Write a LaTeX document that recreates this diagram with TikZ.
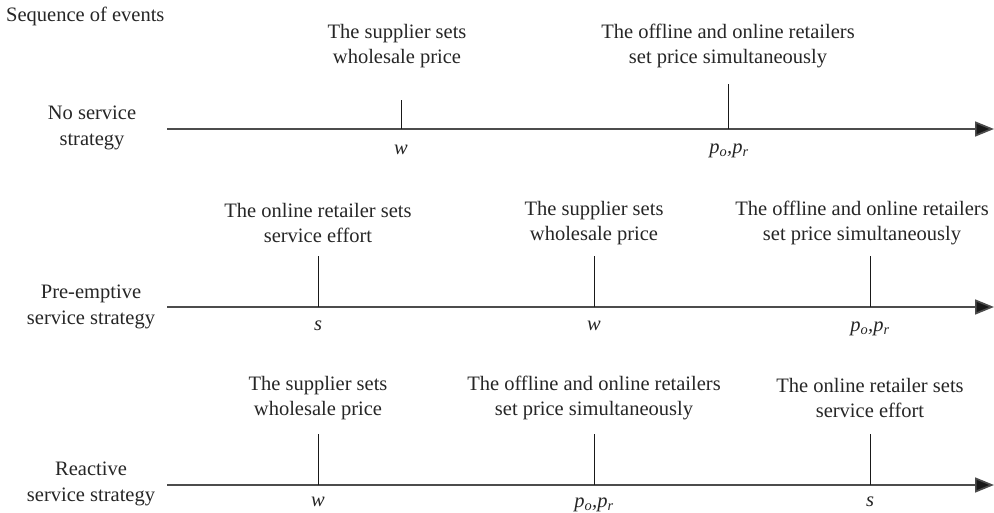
\documentclass[tikz,border=0pt]{standalone}
\usepackage{fontspec}
\setmainfont{Liberation Serif}
\usetikzlibrary{arrows.meta}
\tikzset{
  axisline/.style={draw=black!70, line width=1.7pt, -{Triangle[length=19pt,width=15pt,fill=black!90]}},
  tickline/.style={draw=black!90, line width=1pt},
  evlabel/.style={align=center, inner sep=0pt, font=\fontsize{20.5}{24.5}\selectfont, text=black!85},
  rowlabel/.style={align=center, inner sep=0pt, font=\fontsize{20.5}{26}\selectfont, text=black!85},
  varlabel/.style={inner sep=0pt, font=\fontsize{20.5}{22}\selectfont\itshape, text=black!85}
}
\newcommand{\pvars}{p\textsubscript{o},p\textsubscript{r}}
\begin{document}
\begin{tikzpicture}[x=1pt,y=-1pt]
\useasboundingbox (0,0) rectangle (994,513);

\node[evlabel, anchor=west] (title) at (6,16) {Sequence of events};

% Row 1
\coordinate (a1s) at (167,129);
\coordinate (a1e) at (994,129);
\draw[axisline] (a1s) -- (a1e);
\node[rowlabel] (r1) at (92,128) {No service\\strategy};
\coordinate (t11b) at (401,129); \coordinate (t11t) at (401,100);
\coordinate (t12b) at (728,129); \coordinate (t12t) at (728,84);
\draw[tickline] (t11b) -- (t11t);
\draw[tickline] (t12b) -- (t12t);
\node[evlabel] (e11) at (397,46) {The supplier sets\\wholesale price};
\node[evlabel] (e12) at (728,46) {The offline and online retailers\\set price simultaneously};
\node[varlabel] (v11) at (401,150) {w};
\node[varlabel] (v12) at (729,151) {\pvars};

% Row 2
\coordinate (a2s) at (167,307);
\coordinate (a2e) at (994,307);
\draw[axisline] (a2s) -- (a2e);
\node[rowlabel] (r2) at (91,307) {Pre-emptive\\service strategy};
\coordinate (t21b) at (318,307); \coordinate (t21t) at (318,256);
\coordinate (t22b) at (594,307); \coordinate (t22t) at (594,256);
\coordinate (t23b) at (870,307); \coordinate (t23t) at (870,256);
\draw[tickline] (t21b) -- (t21t);
\draw[tickline] (t22b) -- (t22t);
\draw[tickline] (t23b) -- (t23t);
\node[evlabel] (e21) at (318,223) {The online retailer sets\\service effort};
\node[evlabel] (e22) at (594,223) {The supplier sets\\wholesale price};
\node[evlabel] (e23) at (862,223) {The offline and online retailers\\set price simultaneously};
\node[varlabel] (v21) at (318,326) {s};
\node[varlabel] (v22) at (594,326) {w};
\node[varlabel] (v23) at (870,329) {\pvars};

% Row 3
\coordinate (a3s) at (167,485);
\coordinate (a3e) at (994,485);
\draw[axisline] (a3s) -- (a3e);
\node[rowlabel] (r3) at (91,484) {Reactive\\service strategy};
\coordinate (t31b) at (318,485); \coordinate (t31t) at (318,434);
\coordinate (t32b) at (594,485); \coordinate (t32t) at (594,434);
\coordinate (t33b) at (870,485); \coordinate (t33t) at (870,434);
\draw[tickline] (t31b) -- (t31t);
\draw[tickline] (t32b) -- (t32t);
\draw[tickline] (t33b) -- (t33t);
\node[evlabel] (e31) at (318,398) {The supplier sets\\wholesale price};
\node[evlabel] (e32) at (594,398) {The offline and online retailers\\set price simultaneously};
\node[evlabel] (e33) at (870,398) {The online retailer sets\\service effort};
\node[varlabel] (v31) at (318,502) {w};
\node[varlabel] (v32) at (594,505) {\pvars};
\node[varlabel] (v33) at (870,502) {s};
\end{tikzpicture}
\end{document}
